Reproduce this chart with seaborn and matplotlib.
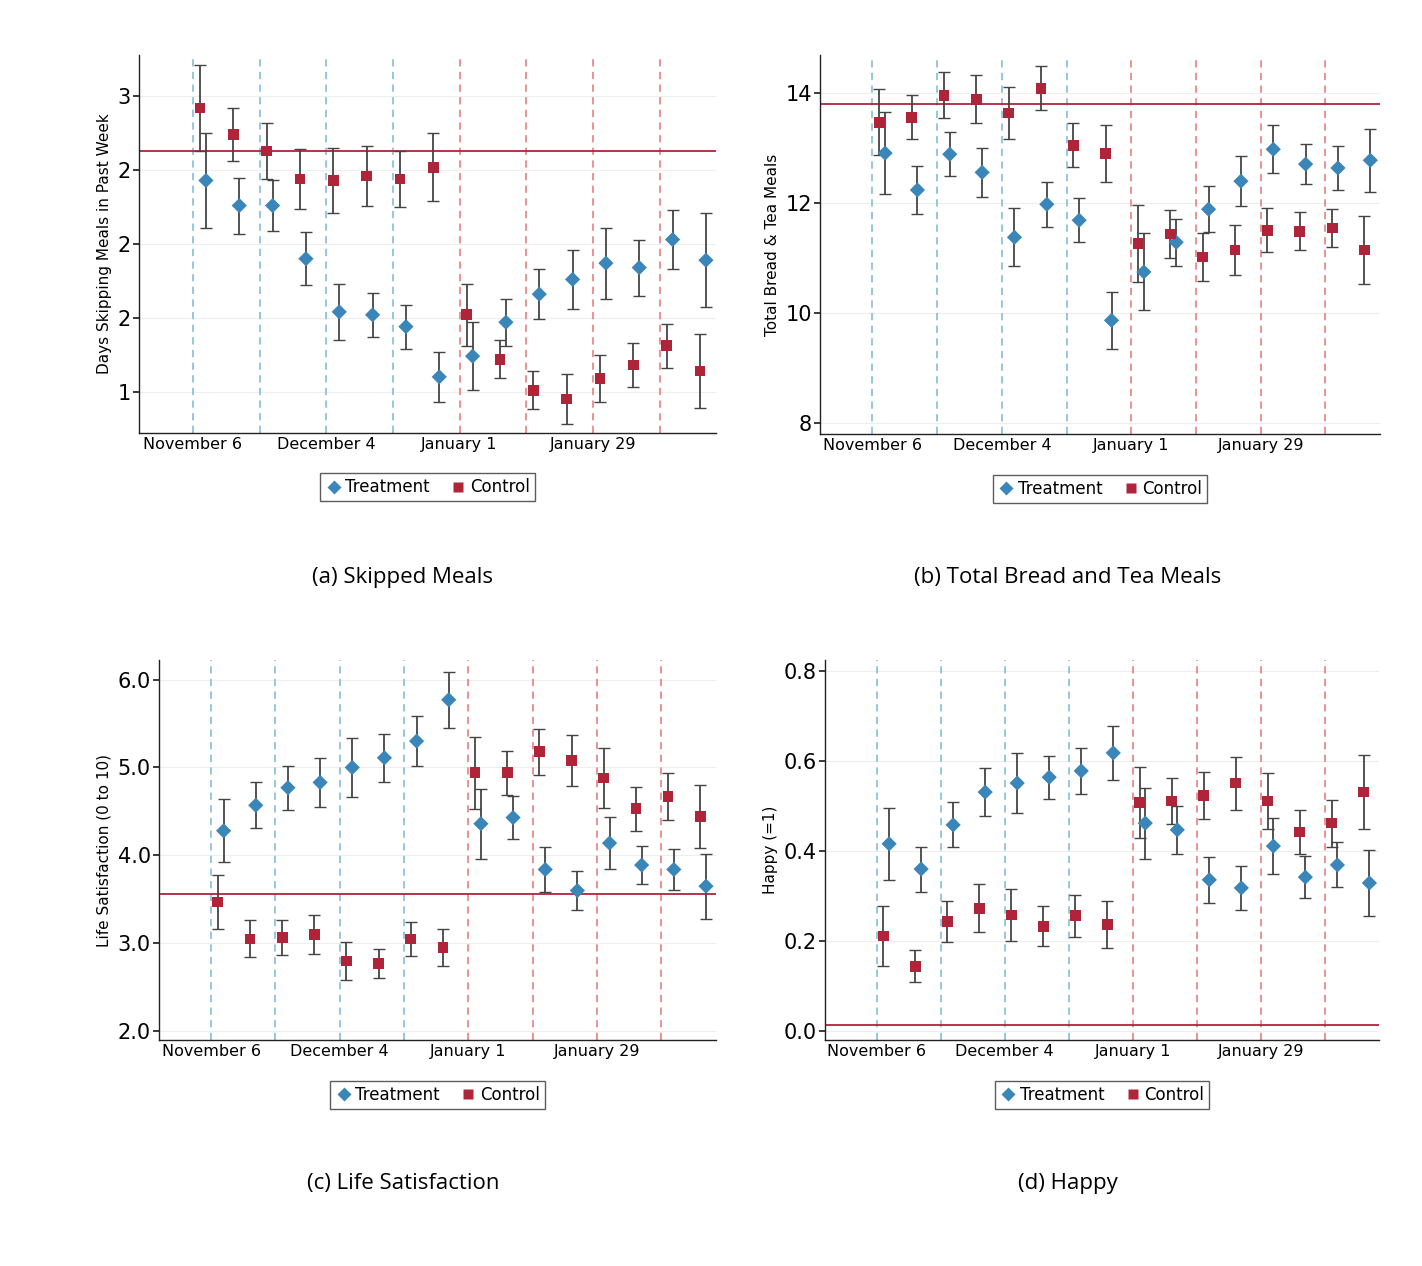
import numpy as np
import pandas as pd
import matplotlib
matplotlib.use("Agg")
import matplotlib.pyplot as plt
import seaborn as sns

weeks = list(range(16))
tick_pos = [0, 4, 8, 12]
tick_labels = ["November 6", "December 4", "January 1", "January 29"]

a_ctrl = [2.92, 2.74, 2.63, 2.44, 2.43, 2.46, 2.44, 2.52, 1.52, 1.22, 1.01, 0.95, 1.09, 1.18, 1.31, 1.14]
a_ctrl_e = [0.29, 0.18, 0.19, 0.2, 0.22, 0.2, 0.19, 0.23, 0.21, 0.13, 0.13, 0.17, 0.16, 0.15, 0.15, 0.25]
a_trt = [2.43, 2.26, 2.26, 1.90, 1.54, 1.52, 1.44, 1.10, 1.24, 1.47, 1.66, 1.76, 1.87, 1.84, 2.03, 1.89]
a_trt_e = [0.32, 0.19, 0.17, 0.18, 0.19, 0.15, 0.15, 0.17, 0.23, 0.16, 0.17, 0.2, 0.24, 0.19, 0.2, 0.32]

b_ctrl = [13.47, 13.56, 13.96, 13.89, 13.64, 14.09, 13.05, 12.91, 11.27, 11.44, 11.02, 11.15, 11.51, 11.49, 11.55, 11.15]
b_ctrl_e = [0.6, 0.4, 0.42, 0.44, 0.48, 0.4, 0.4, 0.52, 0.7, 0.44, 0.44, 0.46, 0.4, 0.35, 0.35, 0.62]
b_trt = [12.91, 12.24, 12.89, 12.56, 11.38, 11.98, 11.69, 9.87, 10.75, 11.29, 11.89, 12.4, 12.98, 12.71, 12.64, 12.78]
b_trt_e = [0.75, 0.43, 0.4, 0.44, 0.53, 0.41, 0.4, 0.52, 0.7, 0.43, 0.42, 0.45, 0.44, 0.36, 0.4, 0.57]

c_ctrl = [3.47, 3.05, 3.07, 3.10, 2.80, 2.77, 3.05, 2.95, 4.94, 4.94, 5.18, 5.08, 4.88, 4.53, 4.67, 4.44]
c_ctrl_e = [0.31, 0.21, 0.2, 0.22, 0.22, 0.17, 0.19, 0.21, 0.41, 0.25, 0.26, 0.29, 0.34, 0.25, 0.27, 0.36]
c_trt = [4.28, 4.57, 4.77, 4.83, 5.00, 5.11, 5.30, 5.77, 4.36, 4.43, 3.84, 3.60, 4.14, 3.89, 3.84, 3.65]
c_trt_e = [0.36, 0.26, 0.25, 0.28, 0.34, 0.27, 0.28, 0.32, 0.4, 0.24, 0.26, 0.22, 0.3, 0.22, 0.23, 0.37]

d_ctrl = [0.211, 0.144, 0.244, 0.273, 0.258, 0.233, 0.256, 0.236, 0.507, 0.511, 0.524, 0.551, 0.511, 0.442, 0.462, 0.531]
d_ctrl_e = [0.067, 0.036, 0.046, 0.053, 0.058, 0.044, 0.047, 0.052, 0.079, 0.051, 0.052, 0.059, 0.063, 0.049, 0.052, 0.082]
d_trt = [0.416, 0.36, 0.458, 0.531, 0.551, 0.564, 0.578, 0.618, 0.462, 0.447, 0.336, 0.318, 0.411, 0.342, 0.369, 0.329]
d_trt_e = [0.08, 0.05, 0.05, 0.053, 0.066, 0.048, 0.051, 0.06, 0.079, 0.053, 0.051, 0.049, 0.062, 0.046, 0.05, 0.073]

hlines = [2.63, 13.8, 3.56, 0.013]
ylabels = ["Days Skipping Meals in Past Week", "Total Bread & Tea Meals", "Life Satisfaction (0 to 10)", "Happy (=1)"]
captions = ["(a) Skipped Meals", "(b) Total Bread and Tea Meals", "(c) Life Satisfaction", "(d) Happy"]
yticks = [[1, 1.5, 2, 2.5, 3], [8, 10, 12, 14], [2, 3, 4, 5, 6], [0, 0.2, 0.4, 0.6, 0.8]]
yticklabels = [["1", "2", "2", "2", "3"], ["8", "10", "12", "14"],
               ["2.0", "3.0", "4.0", "5.0", "6.0"], ["0.0", "0.2", "0.4", "0.6", "0.8"]]
ylims = [(0.72, 3.28), (7.8, 14.69), (1.9, 6.22), (-0.02, 0.824)]

BLUE = "#3a86b8"
RED = "#b0243a"
sns.set_theme(style="white")
plt.rcParams['font.family'] = ['DejaVu Sans']
plt.rcParams['text.color'] = 'black'
plt.rcParams['xtick.color'] = 'black'
plt.rcParams['ytick.color'] = 'black'
plt.rcParams['axes.labelcolor'] = 'black'

fig = plt.figure(figsize=(14.22, 12.66), dpi=100)
rects = [[0.0977, 0.658, 0.406, 0.2986], [0.5767, 0.657, 0.394, 0.2994],
         [0.1118, 0.1785, 0.3917, 0.300], [0.580, 0.1785, 0.390, 0.300]]
caption_xy = [(403, 578), (1068, 578), (403, 1183), (1068, 1183)]
panels = [(a_trt, a_trt_e, a_ctrl, a_ctrl_e), (b_trt, b_trt_e, b_ctrl, b_ctrl_e),
          (c_trt, c_trt_e, c_ctrl, c_ctrl_e), (d_trt, d_trt_e, d_ctrl, d_ctrl_e)]

for i, (t, te, c, ce) in enumerate(panels):
    ax = fig.add_axes(rects[i])
    w = np.array(weeks, dtype=float)
    xt = w + 0.39
    xc = w + 0.21
    for k in range(0, 16, 2):
        ax.axvline(k, color="#8ec3da" if k < 8 else "#e88a8a", ls=(0, (4, 3)), lw=1.3, zorder=1)
    ax.axhline(hlines[i], color=RED, lw=1.3, zorder=1)
    ax.errorbar(xt, t, yerr=te, fmt="none", ecolor="#444444", elinewidth=1.3, capsize=4, zorder=2)
    ax.errorbar(xc, c, yerr=ce, fmt="none", ecolor="#444444", elinewidth=1.3, capsize=4, zorder=2)
    df = pd.DataFrame({"x": np.concatenate([xt, xc]), "y": t + c,
                       "group": ["Treatment"] * 16 + ["Control"] * 16})
    sns.scatterplot(data=df, x="x", y="y", hue="group", style="group",
                    palette={"Treatment": BLUE, "Control": RED},
                    markers={"Treatment": "D", "Control": "s"}, s=60, edgecolor="none",
                    ax=ax, zorder=3)
    ax.set_xlim(-1.62, 15.7)
    ax.set_ylim(*ylims[i])
    ax.set_xticks(tick_pos)
    ax.set_xticklabels(tick_labels, fontsize=11.5)
    ax.set_yticks(yticks[i])
    ax.set_yticklabels(yticklabels[i], fontsize=15)
    ax.yaxis.grid(True, color="#eeeeee", lw=0.8)
    ax.set_axisbelow(True)
    ax.set_xlabel("")
    ax.set_ylabel(ylabels[i], fontsize=11)
    for s in ["top", "right"]:
        ax.spines[s].set_visible(False)
    for s in ["left", "bottom"]:
        ax.spines[s].set_color("#222222")
        ax.spines[s].set_linewidth(1.0)
    ax.tick_params(axis="x", length=0, pad=3)
    ax.tick_params(axis="y", length=4, color="#222222", left=True, pad=2)
    h, l = ax.get_legend_handles_labels()
    ax.legend(h, l, loc="upper center", bbox_to_anchor=(0.5, -0.085), ncol=2, fontsize=12,
              frameon=True, fancybox=False, edgecolor="#333333", handletextpad=0.2,
              handlelength=1.0, columnspacing=1.2, borderpad=0.3, markerscale=0.9)
    fx, fy = caption_xy[i]
    fig.text(fx / 1422, 1 - fy / 1266, captions[i], ha="center", va="center",
             fontsize=16, family="Open Sans")

fig.savefig("out.png", dpi=100, facecolor="white")
